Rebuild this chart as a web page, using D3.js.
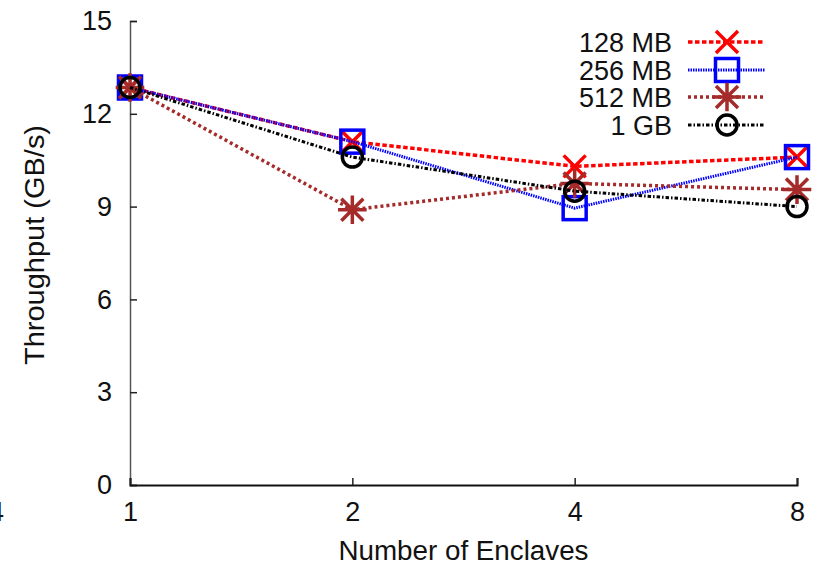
<!DOCTYPE html>
<html lang="en">
<head>
    <meta charset="UTF-8">
    <title>Throughput vs enclaves</title>
    <script src="https://d3js.org/d3.v7.min.js"></script>
    <style>
        *{ margin: 0; padding: 0; }
        body{ background: #fff; }
        text{ font-family: "Liberation Sans", Arial, sans-serif; fill: #111; }
    </style>
</head>
<body>
    <div id="content"></div>
    <script>
        // data
        var enclaves = [1, 2, 4, 8];
        var seriesNames = ["128 MB", "256 MB", "512 MB", "1 GB"];
        var mb128 = [12.85, 11.1, 10.3, 10.6];
        var mb256 = [12.85, 11.1, 8.95, 10.6];
        var mb512 = [12.85, 8.9, 9.75, 9.55];
        var gb1   = [12.85, 10.6, 9.5, 9.0];
        var yTicks = [0, 3, 6, 9, 12, 15];

        var width = 816, height = 569;
        var padding = {top: 21, right: 19, bottom: 84, left: 130};

        var svg = d3.select("#content").append("svg")
                .attr("width", width).attr("height", height);

        var xScale = d3.scaleLog().base(2)
                .domain([1, 8])
                .range([padding.left, width - padding.right]);
        var yScale = d3.scaleLinear()
                .domain([0, 15])
                .range([height - padding.bottom, padding.top]);

        var styles = [
            {color: "#ff0000", dash: "4.5,2.5", w: 3.5, mark: "x"},
            {color: "#0000ff", dash: "1.5,1", w: 3, mark: "square"},
            {color: "#a52a2a", dash: "3,3", w: 3.5, mark: "star"},
            {color: "#000000", dash: "3.5,2,1.5,2", w: 3, mark: "circle"}
        ];
        var allSeries = [mb128, mb256, mb512, gb1];

        /* 坐标轴 */
        var yAxis = d3.axisLeft(yScale).tickValues(yTicks).tickSize(-7).tickPadding(18);
        var gy = svg.append("g")
                .attr("transform", "translate(" + padding.left + ",0)")
                .call(yAxis);
        gy.select(".domain").attr("stroke", "#555").attr("stroke-width", 1.5);
        gy.selectAll(".tick line").attr("stroke", "#222").attr("stroke-width", 1.5);
        gy.selectAll(".tick text").attr("font-size", 27).attr("font-family", "Liberation Sans, Arial, sans-serif")
                .attr("fill", "#111");

        var xAxis = d3.axisBottom(xScale).tickValues(enclaves).tickFormat(d3.format("d"))
                .tickSize(-7).tickPadding(17);
        var gx = svg.append("g")
                .attr("transform", "translate(0," + (height - padding.bottom) + ")")
                .call(xAxis);
        gx.select(".domain").attr("stroke", "#111").attr("stroke-width", 2);
        gx.selectAll(".tick line").attr("stroke", "#222").attr("stroke-width", 1.5);
        gx.selectAll(".tick text").attr("font-size", 27).attr("font-family", "Liberation Sans, Arial, sans-serif")
                .attr("fill", "#111");

        // stray clipped label at the far left (cut off in the original too)
        svg.append("text").attr("x", 4).attr("y", 521)
                .attr("text-anchor", "end").attr("font-size", 27)
                .attr("fill", "#111").style("fill", "#111").text("4");

        svg.append("text")
                .attr("x", (xScale(1) + xScale(8)) / 2).attr("y", 560)
                .attr("text-anchor", "middle").attr("font-size", 27)
                .attr("textLength", 250).attr("lengthAdjust", "spacingAndGlyphs")
                .text("Number of Enclaves");
        svg.append("text")
                .attr("transform", "translate(44," + 245 + ") rotate(-90)")
                .attr("text-anchor", "middle").attr("font-size", 27)
                .attr("textLength", 240).attr("lengthAdjust", "spacingAndGlyphs")
                .text("Throughput (GB/s)");

        /* 标记 */
        function drawMark(g, kind, x, y, color){
            var s = 11;
            if(kind === "x"){
                g.append("path").attr("d", "M" + (x - s) + "," + (y - s) + "L" + (x + s) + "," + (y + s) +
                        "M" + (x - s) + "," + (y + s) + "L" + (x + s) + "," + (y - s))
                        .attr("stroke", color).attr("stroke-width", 3.5).attr("fill", "none");
            } else if(kind === "square"){
                g.append("rect").attr("x", x - 11.5).attr("y", y - 11.5).attr("width", 23).attr("height", 23)
                        .attr("stroke", color).attr("stroke-width", 3.5).attr("fill", "none");
            } else if(kind === "star"){
                g.append("path").attr("d", "M" + (x - s) + "," + (y - s) + "L" + (x + s) + "," + (y + s) +
                        "M" + (x - s) + "," + (y + s) + "L" + (x + s) + "," + (y - s) +
                        "M" + (x - s * 1.3) + "," + y + "L" + (x + s * 1.3) + "," + y +
                        "M" + x + "," + (y - s * 1.3) + "L" + x + "," + (y + s * 1.3))
                        .attr("stroke", color).attr("stroke-width", 3.5).attr("fill", "none");
            } else {
                g.append("circle").attr("cx", x).attr("cy", y).attr("r", 10)
                        .attr("stroke", color).attr("stroke-width", 3.5).attr("fill", "none");
            }
        }

        var line = d3.line()
                .x(function(d, i){ return xScale(enclaves[i]); })
                .y(function(d){ return yScale(d); });

        allSeries.forEach(function(vals, k){
            var st = styles[k];
            var g = svg.append("g");
            g.append("path").attr("d", line(vals))
                    .attr("fill", "none").attr("stroke", st.color)
                    .attr("stroke-width", st.w).attr("stroke-dasharray", st.dash);
            vals.forEach(function(v, i){
                drawMark(g, st.mark, xScale(enclaves[i]), yScale(v), st.color);
            });
        });

        /* 图例 */
        var legY = [42, 70, 97, 125];
        seriesNames.forEach(function(name, k){
            var st = styles[k];
            var g = svg.append("g");
            g.append("text").attr("x", 672).attr("y", legY[k] + 10)
                    .attr("text-anchor", "end").attr("font-size", 27).text(name);
            g.append("line").attr("x1", 688).attr("x2", 765).attr("y1", legY[k]).attr("y2", legY[k])
                    .attr("stroke", st.color).attr("stroke-width", st.w).attr("stroke-dasharray", st.dash);
            drawMark(g, st.mark, 727, legY[k], st.color);
        });
    </script>
</body>
</html>
